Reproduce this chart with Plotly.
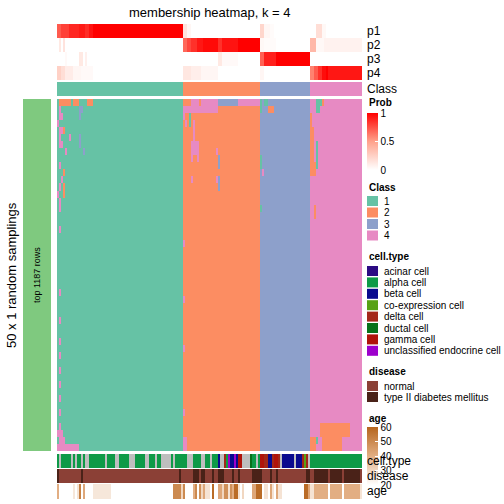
import plotly.graph_objects as go

W = H = 504

def expand(runs):
    out = []
    for v, n in runs:
        out += [v] * n
    return out

# ---------------- data ----------------
class_runs = [(1, 63), (2, 38), (3, 25), (4, 26)]

p1_runs = [(0.72, 2), (0.8, 4), (0.88, 5), (0.92, 3), (0.86, 2), (0.94, 2), (1.0, 45),
           (0.15, 2), (0.05, 2), (0.0, 34),
           (0.22, 2), (0.05, 3), (0.02, 2), (0.0, 18),
           (0.0, 3), (0.18, 3), (0.04, 2), (0.0, 18)]
p2_runs = [(0.0, 1), (0.12, 1), (0.0, 1), (0.15, 1), (0.0, 59),
           (0.68, 2), (0.78, 2), (0.85, 3), (0.93, 3), (0.97, 7), (0.85, 2), (0.94, 8), (1.0, 11),
           (0.04, 2), (0.02, 6), (0.0, 17),
           (0.38, 3), (0.04, 4), (0.07, 19)]
p3_runs = [(0.0, 4), (0.03, 1), (0.0, 6), (0.12, 2), (0.0, 1), (0.08, 1), (0.0, 48),
           (0.0, 17), (0.12, 2), (0.03, 8), (0.0, 11),
           (0.7, 2), (0.9, 6), (1.0, 17),
           (0.0, 26)]
p4_runs = [(0.25, 2), (0.18, 2), (0.1, 4), (0.05, 4), (0.03, 6), (0.0, 45),
           (0.13, 4), (0.09, 5), (0.05, 8), (0.0, 21),
           (0.05, 2), (0.0, 23),
           (0.6, 2), (0.72, 2), (0.85, 2), (0.96, 2), (1.0, 1), (0.93, 17)]

cell_type_names = ["acinar cell", "alpha cell", "beta cell", "co-expression cell",
                   "delta cell", "ductal cell", "gamma cell", "unclassified endocrine cell"]
cell_type_colors = ["#2C0B83", "#0E9A47", "#0A0A8E", "#58A116",
                    "#A3281A", "#08721A", "#B0130B", "#9D00CC"]
na_color = "#BEBEBE"
cell_type_runs = [("alpha cell", 1), (None, 1), ("alpha cell", 5), (None, 1), ("alpha cell", 1), (None, 1),
                  ("alpha cell", 2), (None, 1), ("alpha cell", 1), (None, 2), ("alpha cell", 8), (None, 1),
                  ("alpha cell", 4), (None, 2), ("alpha cell", 5), (None, 3), ("alpha cell", 5), (None, 2),
                  ("alpha cell", 3), (None, 1), ("alpha cell", 2), (None, 5), ("alpha cell", 1), (None, 1),
                  ("alpha cell", 6), (None, 3), ("alpha cell", 4), (None, 2), ("alpha cell", 2), (None, 1),
                  ("alpha cell", 3), ("beta cell", 1), (None, 2), ("delta cell", 1), ("alpha cell", 1),
                  ("unclassified endocrine cell", 1), ("beta cell", 2), ("unclassified endocrine cell", 1),
                  ("beta cell", 1), ("gamma cell", 2), (None, 4), ("ductal cell", 1), ("alpha cell", 2),
                  (None, 1), ("alpha cell", 1), ("gamma cell", 2), ("delta cell", 2), ("beta cell", 2),
                  ("delta cell", 1), ("gamma cell", 2), ("delta cell", 1), (None, 1), ("beta cell", 6),
                  (None, 1), ("beta cell", 3), ("delta cell", 1), ("co-expression cell", 1),
                  ("delta cell", 1), (None, 1), ("alpha cell", 26)]

disease_names = ["normal", "type II diabetes mellitus"]
disease_colors = ["#8B4036", "#4A2218"]
disease_runs = [("T", 1), ("N", 11), ("T", 1), ("N", 48), ("T", 1), ("N", 6), ("T", 3), ("N", 1),
                ("T", 2), ("N", 3), ("T", 1), ("N", 2), ("T", 3), ("N", 4), ("T", 1), ("N", 2),
                ("T", 1), ("N", 6), ("T", 5), ("N", 4), ("T", 1), ("N", 2), ("T", 1), ("N", 14),
                ("T", 2), ("N", 2), ("T", 7), ("N", 1), ("T", 6), ("N", 1), ("T", 8), ("N", 1)]

age_runs = [(40, 1), (None, 7), (26, 1), (None, 1), (27, 1), (52, 1), (None, 1), (42, 1), (None, 4),
            (26, 9), (None, 31), (50, 4), (30, 1), (50, 1), (None, 4), (40, 1), (50, 1), (None, 1),
            (48, 1), (30, 1), (42, 1), (27, 2), (None, 1), (58, 1), (None, 2), (42, 2), (30, 1),
            (48, 2), (27, 1), (48, 1), (40, 1), (58, 2), (27, 1), (None, 1), (30, 1), (None, 4),
            (42, 2), (58, 3), (None, 1), (27, 2), (None, 1), (42, 1), (27, 1), (None, 1), (42, 1),
            (27, 1), (27, 1), (None, 11), (58, 2), (42, 1), (27, 2), (40, 7), (None, 1), (40, 6),
            (None, 1), (40, 8), (27, 1)]

# deviations of the 50 sampling rows from the consensus class: (row, first col, last col, class)
sampling_deviations = [
    (0, 1, 6, 2), (0, 8, 10, 2), (0, 15, 17, 2),
    (1, 1, 1, 4), (1, 11, 12, 3), (2, 1, 2, 4), (2, 11, 11, 3), (3, 0, 0, 4),
    (4, 1, 2, 4), (4, 3, 3, 2), (5, 1, 1, 4), (5, 6, 6, 4), (5, 11, 11, 3),
    (6, 1, 2, 4), (6, 11, 11, 3), (7, 4, 4, 4), (7, 13, 13, 3), (9, 1, 1, 4),
    (10, 3, 3, 2), (11, 2, 2, 4), (12, 1, 1, 4), (12, 3, 3, 2), (13, 0, 0, 4),
    (13, 3, 3, 2), (14, 1, 1, 4), (15, 1, 1, 4), (18, 1, 1, 4), (27, 1, 1, 4),
    (31, 1, 1, 4), (34, 1, 1, 4), (36, 1, 1, 4), (38, 1, 1, 4), (40, 1, 1, 4),
    (42, 1, 1, 4), (44, 1, 1, 4), (46, 1, 1, 4), (47, 0, 2, 4), (48, 1, 3, 4), (49, 0, 10, 4),
    (0, 63, 66, 2), (0, 67, 70, 4), (0, 72, 79, 4), (0, 80, 89, 3), (0, 90, 100, 4),
    (1, 63, 79, 4), (2, 63, 63, 4), (2, 66, 66, 1), (3, 64, 64, 4), (3, 66, 66, 1),
    (3, 68, 68, 4), (4, 68, 68, 4), (5, 68, 68, 4), (6, 67, 70, 4), (7, 67, 70, 4),
    (7, 79, 79, 4), (8, 67, 67, 4), (8, 70, 70, 4), (8, 80, 80, 3), (9, 80, 80, 3),
    (11, 67, 67, 4), (11, 79, 79, 4), (11, 80, 80, 3), (12, 80, 80, 3),
    (20, 63, 63, 4), (28, 63, 63, 4), (35, 63, 63, 4), (44, 63, 63, 4), (48, 63, 64, 4), (49, 63, 64, 4),
    (0, 101, 101, 1), (0, 103, 104, 1), (1, 101, 101, 1), (1, 105, 107, 2),
    (8, 101, 101, 1), (9, 101, 101, 1), (10, 102, 102, 4), (15, 101, 101, 1),
    (0, 129, 131, 1), (0, 132, 132, 2), (1, 129, 130, 1), (2, 126, 126, 2), (3, 126, 126, 2),
    (4, 126, 127, 2), (5, 126, 127, 2), (6, 126, 127, 2), (6, 129, 129, 1), (7, 126, 127, 2),
    (7, 129, 129, 1), (8, 126, 127, 2), (8, 129, 129, 1), (9, 126, 128, 2), (9, 129, 129, 1),
    (10, 126, 128, 2), (15, 128, 128, 2), (16, 128, 128, 2),
    (46, 131, 145, 2), (47, 131, 145, 2), (48, 126, 128, 2), (48, 129, 129, 1), (48, 132, 141, 2),
    (49, 126, 128, 2), (49, 132, 141, 2),
]

class_colors = ["#66C2A5", "#FC8D62", "#8DA0CB", "#E78AC3"]

# ---------------- build ----------------
classes = expand(class_runs)
N = len(classes)
p_rows = [expand(r) for r in (p1_runs, p2_runs, p3_runs, p4_runs)]
cell_types = expand(cell_type_runs)
disease = expand(disease_runs)
ages = expand(age_runs)

n_rows = 50
mat = [[classes[c] for c in range(N)] for _ in range(n_rows)]
for r, a, b, k in sampling_deviations:
    for c in range(a, b + 1):
        mat[r][c] = k


def discrete_scale(colors):
    n = len(colors)
    sc = []
    for i, col in enumerate(colors):
        sc.append([i / n, col])
        sc.append([(i + 1) / n, col])
    return sc


def yd(top, bottom):
    return [1 - bottom / H, 1 - top / H]


fig = go.Figure()
xs = list(range(N))

# main matrix
fig.add_trace(go.Heatmap(z=[[v - 1 for v in row] for row in mat], x=xs, y=list(range(n_rows)),
                         colorscale=discrete_scale(class_colors), zmin=-0.5, zmax=3.5,
                         showscale=False, hoverinfo="skip", xaxis="x", yaxis="y"))
# probability rows
fig.add_trace(go.Heatmap(z=p_rows, x=xs, y=[0, 1, 2, 3],
                         colorscale=[[0, "#FFFFFF"], [0.5, "#FFA28C"], [1, "#FF0000"]], zmin=0, zmax=1,
                         hoverinfo="skip", xaxis="x", yaxis="y2",
                         colorbar=dict(x=367 / W, xanchor="left", y=1 - 141.5 / H, yanchor="middle",
                                       len=57, lenmode="pixels", thickness=11, thicknessmode="pixels",
                                       tickvals=[0, 0.5, 1], ticktext=["0", "0.5", "1"],
                                       ticks="inside", ticklen=3, tickcolor="white", outlinewidth=0,
                                       tickfont=dict(size=10, family="Liberation Sans", color="black"),
                                       xpad=0, ypad=0)))
# class row
fig.add_trace(go.Heatmap(z=[[v - 1 for v in classes]], x=xs, y=[0],
                         colorscale=discrete_scale(class_colors), zmin=-0.5, zmax=3.5,
                         showscale=False, hoverinfo="skip", xaxis="x", yaxis="y3"))
# cell type row
ct_colors = cell_type_colors + [na_color]
ct_codes = [cell_type_names.index(v) if v is not None else len(cell_type_names) for v in cell_types]
fig.add_trace(go.Heatmap(z=[ct_codes], x=xs, y=[0],
                         colorscale=discrete_scale(ct_colors), zmin=-0.5, zmax=len(ct_colors) - 0.5,
                         showscale=False, hoverinfo="skip", xaxis="x", yaxis="y4"))
# disease row
fig.add_trace(go.Heatmap(z=[[0 if v == "N" else 1 for v in disease]], x=xs, y=[0],
                         colorscale=discrete_scale(disease_colors), zmin=-0.5, zmax=1.5,
                         showscale=False, hoverinfo="skip", xaxis="x", yaxis="y5"))
# age row
fig.add_trace(go.Heatmap(z=[ages], x=xs, y=[0],
                         colorscale=[[0, "#FFFFFF"], [0.5, "#E2AE83"], [1, "#B5651D"]], zmin=20, zmax=60,
                         hoverinfo="skip", xaxis="x", yaxis="y6",
                         colorbar=dict(x=367 / W, xanchor="left", y=1 - 456 / H, yanchor="middle",
                                       len=58, lenmode="pixels", thickness=11, thicknessmode="pixels",
                                       tickvals=[20, 30, 40, 50, 60],
                                       ticks="inside", ticklen=3, tickcolor="white", outlinewidth=0,
                                       tickfont=dict(size=10, family="Liberation Sans", color="black"),
                                       xpad=0, ypad=0)))

ax_off = dict(visible=False, showgrid=False, zeroline=False, fixedrange=True)
fig.update_layout(
    width=W, height=H, margin=dict(l=0, r=0, t=0, b=0),
    paper_bgcolor="white", plot_bgcolor="white",
    font=dict(family="Liberation Sans", color="black"),
    xaxis=dict(domain=[57 / W, 362 / W], range=[-0.5, N - 0.5], **ax_off),
    yaxis=dict(domain=yd(99, 451), range=[n_rows - 0.5, -0.5], **ax_off),
    yaxis2=dict(domain=yd(24, 80), range=[3.5, -0.5], **ax_off),
    yaxis3=dict(domain=yd(82, 96), range=[-0.5, 0.5], **ax_off),
    yaxis4=dict(domain=yd(454, 468), range=[-0.5, 0.5], **ax_off),
    yaxis5=dict(domain=yd(469, 483), range=[-0.5, 0.5], **ax_off),
    yaxis6=dict(domain=yd(484, 499), range=[-0.5, 0.5], **ax_off),
    showlegend=False,
)

ann = []
shapes = []


def text(x, y, s, size=10, bold=False, anchor="left", angle=0):
    ann.append(dict(x=x / W, y=1 - y / H, xref="paper", yref="paper", text=("<b>%s</b>" % s) if bold else s,
                    showarrow=False, xanchor=anchor, yanchor="middle", textangle=angle,
                    font=dict(size=size, family="Liberation Sans", color="black")))


def rect(x0, y0, x1, y1, color):
    shapes.append(dict(type="rect", xref="paper", yref="paper", x0=x0 / W, x1=x1 / W,
                       y0=1 - y1 / H, y1=1 - y0 / H, fillcolor=color, line=dict(width=0)))


text(210, 12, "membership heatmap, k = 4", size=13, anchor="center")
for i, lab in enumerate(["p1", "p2", "p3", "p4"]):
    text(365, 31 + 14 * i, lab, size=12)
text(365, 89, "Class", size=12)

# left block
rect(23, 99, 51, 451, "#7FC97F")
text(37, 275, "top 1187 rows", size=9, anchor="center", angle=-90)
text(11, 275, "50 x 1 random samplings", size=13, anchor="center", angle=-90)

# legends
text(367, 103, "Prob", size=10, bold=True)
text(367, 187, "Class", size=10, bold=True)
for i, col in enumerate(class_colors):
    y0 = 196 + 11.5 * i
    rect(367, y0, 378, y0 + 10, col)
    text(382, y0 + 5, str(i + 1), size=10)
text(367, 256, "cell.type", size=10, bold=True)
for i, (nm, col) in enumerate(zip(cell_type_names, cell_type_colors)):
    y0 = 266 + 11.4 * i
    rect(367, y0, 378, y0 + 10, col)
    text(382, y0 + 5, nm, size=10)
text(367, 371, "disease", size=10, bold=True)
for i, (nm, col) in enumerate(zip(disease_names, disease_colors)):
    y0 = 381 + 11 * i
    rect(367, y0, 378, y0 + 10, col)
    text(382, y0 + 5, nm, size=10)
text(367, 418, "age", size=10, bold=True)

# bottom annotation names
text(365, 461, "cell.type", size=12)
text(365, 476, "disease", size=12)
text(365, 491, "age", size=12)

fig.update_layout(annotations=ann, shapes=shapes)
fig.write_html("out.html", config={"displayModeBar": False},
               post_script="document.body.style.margin='0';document.body.style.padding='0';")
